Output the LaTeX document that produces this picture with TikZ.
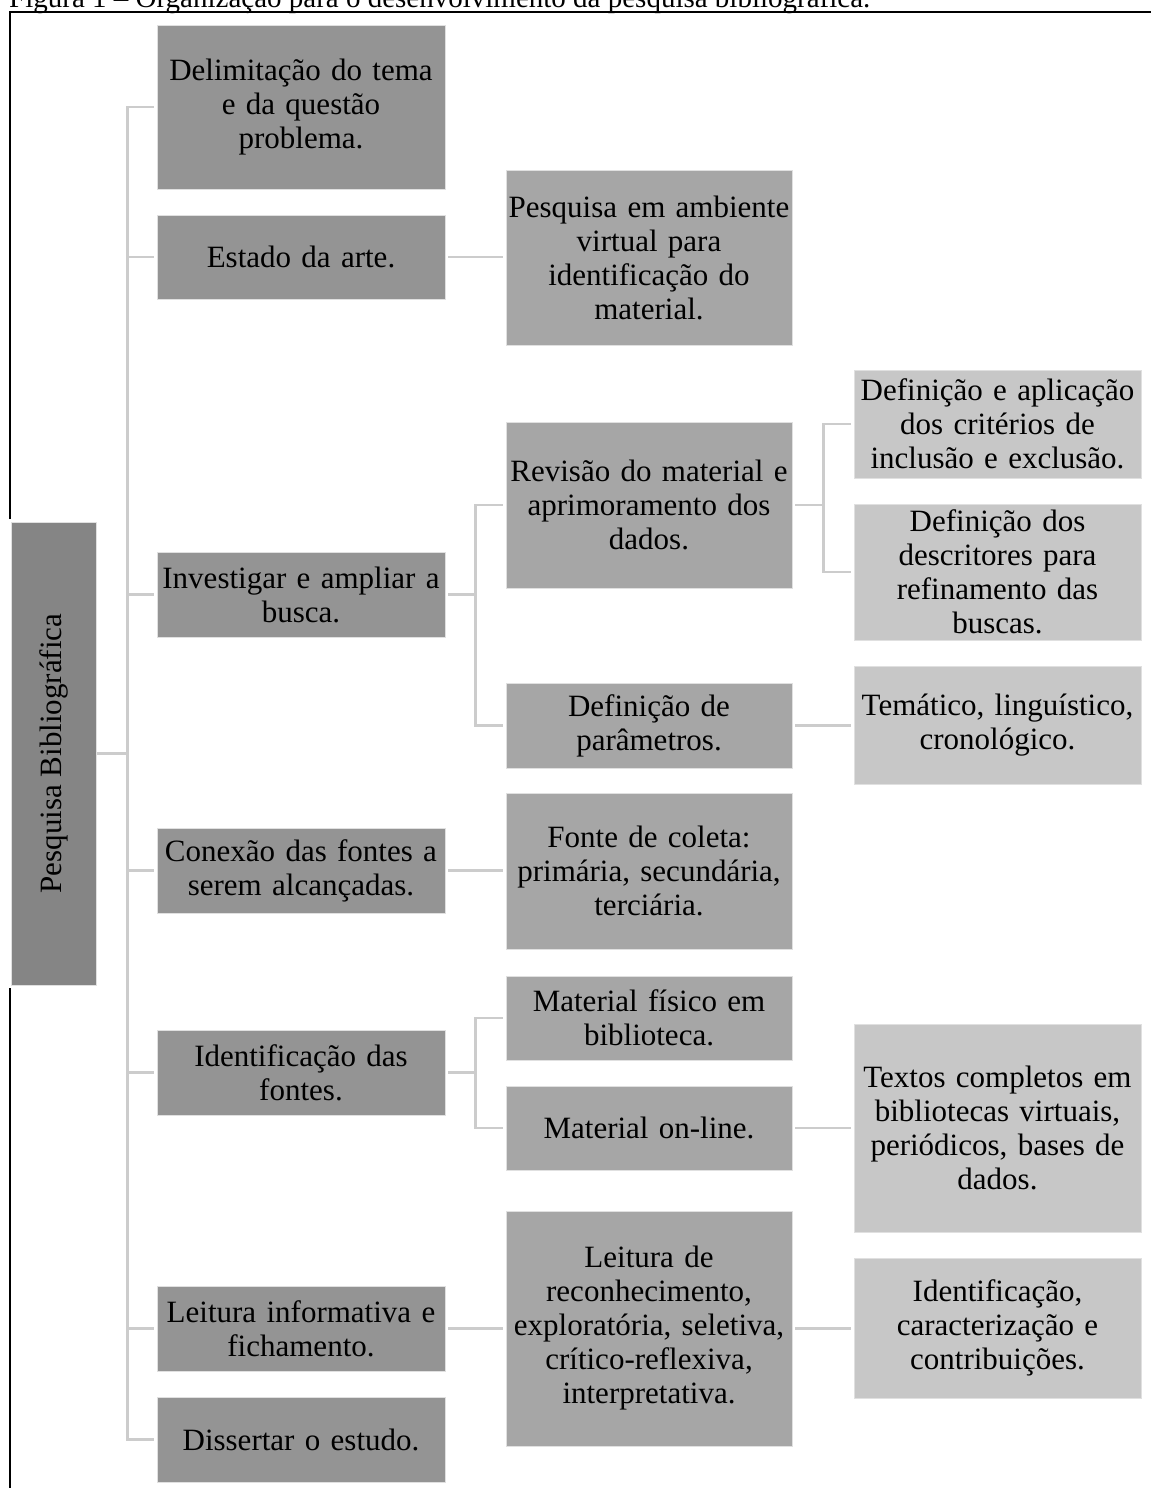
\documentclass[tikz,border=0pt]{standalone}
\usepackage{fontspec}
\setmainfont{Liberation Serif}
\usepackage{xcolor}
\usepackage{tikz}
\usetikzlibrary{positioning}

\begin{document}
\begin{tikzpicture}[
  x=1pt, y=-1pt,
  font=\fontsize{31}{34}\selectfont,
  box/.style={rectangle,draw=black!12,line width=0.8pt,inner sep=0pt,align=center},
  rootbox/.style={box,fill=black!48,minimum width=463pt,minimum height=85pt,rotate=90},
  lvone/.style={box,fill=black!42,text width=288pt,minimum height=#1},
  lvtwo/.style={box,fill=black!35,text width=286pt,minimum height=#1},
  lvthree/.style={box,fill=black!22,text width=287pt,minimum height=#1},
  conn/.style={draw=black!20,line width=2.6pt},
  frame/.style={draw=black,line width=2pt}
    ]
\useasboundingbox (0,0) rectangle (1151,1488);

% caption, cut by the page edge
\node[anchor=base west,inner sep=0pt,font=\fontsize{29}{32}\selectfont] (cap) at (9,7.5)
  {Figura 1 -- Organização para o desenvolvimento da pesquisa bibliográfica.};
\draw[frame] (10,1488) -- (10,988);
\draw[frame] (10,519) -- (10,12.5) -- (1151,12.5);

\node[rootbox] (root) at (53.5,753.5) {Pesquisa Bibliográfica};

% first level
\node[lvone=164pt] (delim) at (301,107) {Delimitação do tema\\e da questão\\problema.};
\node[lvone=84pt] (estado) at (301,257) {Estado da arte.};
\node[lvone=85pt] (invest) at (301,594.5) {Investigar e ampliar a\\busca.};
\node[lvone=85pt] (conex) at (301,870.5) {Conexão das fontes a\\serem alcançadas.};
\node[lvone=85pt] (ident) at (301,1072.5) {Identificação das\\fontes.};
\node[lvone=85pt] (leit) at (301,1328.5) {Leitura informativa e\\fichamento.};
\node[lvone=85pt] (diss) at (301,1439.5) {Dissertar o estudo.};

% second level
\node[lvtwo=175pt] (virt) at (649,257.5) {Pesquisa em ambiente\\virtual para\\identificação do\\material.};
\node[lvtwo=166pt] (revis) at (649,505) {Revisão do material e\\aprimoramento dos\\dados.};
\node[lvtwo=85pt] (param) at (649,725.5) {Definição de\\parâmetros.};
\node[lvtwo=156pt] (coleta) at (649,871) {Fonte de coleta:\\primária, secundária,\\terciária.};
\node[lvtwo=84pt] (fisico) at (649,1018) {Material físico em\\biblioteca.};
\node[lvtwo=84pt] (online) at (649,1128) {Material on-line.};
\node[lvtwo=235pt] (tipos) at (649,1328.5) {Leitura de\\reconhecimento,\\exploratória, seletiva,\\crítico-reflexiva,\\interpretativa.};

% third level
\node[lvthree=108pt] (crit) at (997.5,424) {Definição e aplicação\\dos critérios de\\inclusão e exclusão.};
\node[lvthree=136pt] (descr) at (997.5,572) {Definição dos\\descritores para\\refinamento das\\buscas.};
\node[lvthree=118pt] (tema) at (997.5,725) {Temático, linguístico,\\cronológico.};
\node[lvthree=208pt] (textos) at (997.5,1128) {Textos completos em\\bibliotecas virtuais,\\periódicos, bases de\\dados.};
\node[lvthree=140pt] (contrib) at (997.5,1328) {Identificação,\\caracterização e\\contribuições.};

\foreach \c in {delim,estado,invest,conex,ident,leit,diss}
  \draw[conn] ([xshift=1pt]root.south) -- ++(30,0) |- ([xshift=-3pt]\c.west);
\foreach \c in {revis,param}
  \draw[conn] ([xshift=3pt]invest.east) -- ++(27,0) |- ([xshift=-3pt]\c.west);
\foreach \c in {fisico,online}
  \draw[conn] ([xshift=3pt]ident.east) -- ++(27,0) |- ([xshift=-3pt]\c.west);
\foreach \c in {crit,descr}
  \draw[conn] ([xshift=3pt]revis.east) -- ++(28,0) |- ([xshift=-3pt]\c.west);
\path[conn] ([xshift=3pt]estado.east) -- ([xshift=-3pt]estado.east -| virt.west)
  ([xshift=3pt]conex.east) -- ([xshift=-3pt]conex.east -| coleta.west)
  ([xshift=3pt]leit.east) -- ([xshift=-3pt]leit.east -| tipos.west)
  ([xshift=3pt]param.east) -- ([xshift=-3pt]param.east -| tema.west)
  ([xshift=3pt]online.east) -- ([xshift=-3pt]online.east -| textos.west)
  ([xshift=3pt]tipos.east) -- ([xshift=-3pt]tipos.east -| contrib.west);

\end{tikzpicture}
\end{document}
